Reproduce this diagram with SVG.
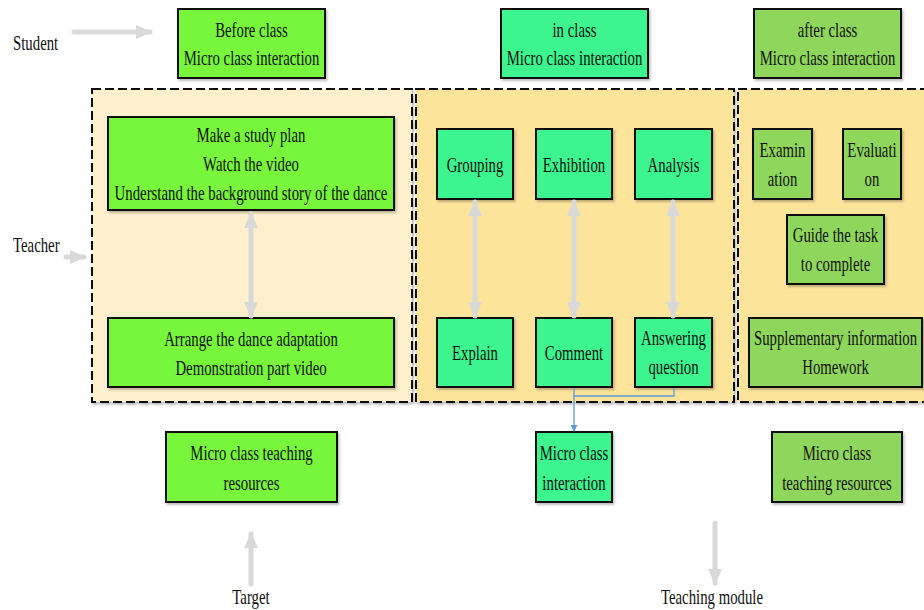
<svg xmlns="http://www.w3.org/2000/svg" width="924" height="610" viewBox="0 0 924 610">
  <defs>
    <filter id="shadow" x="-10%" y="-10%" width="130%" height="130%">
      <feDropShadow dx="1.5" dy="2" stdDeviation="1" flood-color="#000" flood-opacity="0.25"/>
    </filter>
    <marker id="grayHead" viewBox="0 0 16 14" refX="14" refY="7" markerWidth="16" markerHeight="14" markerUnits="userSpaceOnUse" orient="auto-start-reverse">
      <path d="M0,0 L16,7 L0,14 Z" fill="#d9d9d9"/>
    </marker>
    <marker id="blueHead" viewBox="0 0 8 8" refX="7" refY="4" markerWidth="7" markerHeight="7" markerUnits="userSpaceOnUse" orient="auto">
      <path d="M0,0 L8,4 L0,8 Z" fill="#5b9bd5"/>
    </marker>
  </defs>
  <style>
    text { font-family: "Liberation Serif", "Times New Roman", serif; font-size: 21px; fill: #111; text-anchor: middle; }
    .lbl { text-anchor: start; }
    .box { stroke: #111; stroke-width: 2; filter: url(#shadow); }
    .g1 { fill: #77f63b; }
    .g2 { fill: #3ef58e; }
    .g3 { fill: #8fd65c; }
    .panel { stroke: #111; stroke-width: 2; stroke-dasharray: 9 4; filter: url(#shadow); }
    .p1 { fill: #fef0cc; }
    .p2 { fill: #fde49b; }
    .garrow { stroke: #d9d9d9; stroke-width: 5; fill: none; stroke-linecap: round; }
    .blue { stroke: #5b9bd5; stroke-width: 1.3; fill: none; }
  </style>

  <!-- stage panels -->
  <g id="panel-before">
    <rect class="panel p1" x="92" y="89" width="320" height="313"/>
  </g>
  <g id="panel-in">
    <rect class="panel p2" x="416" y="89" width="318" height="313"/>
  </g>
  <g id="panel-after">
    <rect class="panel p2" x="738" y="89" width="200" height="313"/>
  </g>

  <!-- side labels -->
  <g id="student">
    <text transform="translate(13,50) scale(0.705,1)" class="lbl">Student</text>
  </g>
  <g id="teacher">
    <text transform="translate(13,252) scale(0.705,1)" class="lbl">Teacher</text>
  </g>
  <g id="target">
    <text transform="translate(251,604) scale(0.705,1)">Target</text>
  </g>
  <g id="teaching-module">
    <text transform="translate(712,604) scale(0.705,1)">Teaching module</text>
  </g>

  <!-- stage headers -->
  <g id="before-class">
    <rect class="box g1" x="178" y="9" width="147" height="69"/>
    <text transform="translate(251.5,37) scale(0.705,1)">Before class</text>
    <text transform="translate(251.5,65) scale(0.705,1)">Micro class interaction</text>
  </g>
  <g id="in-class">
    <rect class="box g2" x="501" y="9" width="147" height="69"/>
    <text transform="translate(574.5,37) scale(0.705,1)">in class</text>
    <text transform="translate(574.5,65) scale(0.705,1)">Micro class interaction</text>
  </g>
  <g id="after-class">
    <rect class="box g3" x="754" y="9" width="147" height="69"/>
    <text transform="translate(827.5,37) scale(0.705,1)">after class</text>
    <text transform="translate(827.5,65) scale(0.705,1)">Micro class interaction</text>
  </g>

  <!-- before class content -->
  <g id="study-plan">
    <rect class="box g1" x="108" y="117" width="286" height="93"/>
    <text transform="translate(251,142) scale(0.705,1)">Make a study plan</text>
    <text transform="translate(251,171) scale(0.705,1)">Watch the video</text>
    <text transform="translate(251,200) scale(0.705,1)">Understand the background story of the dance</text>
  </g>
  <g id="dance-adaptation">
    <rect class="box g1" x="108" y="318" width="286" height="69"/>
    <text transform="translate(251,346) scale(0.705,1)">Arrange the dance adaptation</text>
    <text transform="translate(251,375) scale(0.705,1)">Demonstration part video</text>
  </g>

  <!-- in class content -->
  <g id="grouping">
    <rect class="box g2" x="437" y="129" width="76" height="70"/>
    <text transform="translate(475,172) scale(0.705,1)">Grouping</text>
  </g>
  <g id="exhibition">
    <rect class="box g2" x="536" y="129" width="76" height="70"/>
    <text transform="translate(574,172) scale(0.705,1)">Exhibition</text>
  </g>
  <g id="analysis">
    <rect class="box g2" x="635" y="129" width="77" height="70"/>
    <text transform="translate(673.5,172) scale(0.705,1)">Analysis</text>
  </g>
  <g id="explain">
    <rect class="box g2" x="437" y="318" width="76" height="69"/>
    <text transform="translate(475,360) scale(0.705,1)">Explain</text>
  </g>
  <g id="comment">
    <rect class="box g2" x="536" y="318" width="76" height="69"/>
    <text transform="translate(574,360) scale(0.705,1)">Comment</text>
  </g>
  <g id="answering">
    <rect class="box g2" x="635" y="318" width="77" height="69"/>
    <text transform="translate(673.5,345) scale(0.705,1)">Answering</text>
    <text transform="translate(673.5,374) scale(0.705,1)">question</text>
  </g>

  <!-- after class content -->
  <g id="examination">
    <rect class="box g3" x="753" y="129" width="59" height="70"/>
    <text transform="translate(782.5,157) scale(0.705,1)">Examin</text>
    <text transform="translate(782.5,186) scale(0.705,1)">ation</text>
  </g>
  <g id="evaluation">
    <rect class="box g3" x="843" y="129" width="58" height="70"/>
    <text transform="translate(872,157) scale(0.705,1)">Evaluati</text>
    <text transform="translate(872,186) scale(0.705,1)">on</text>
  </g>
  <g id="guide-task">
    <rect class="box g3" x="787" y="215" width="97" height="69"/>
    <text transform="translate(835.5,242) scale(0.705,1)">Guide the task</text>
    <text transform="translate(835.5,271) scale(0.705,1)">to complete</text>
  </g>
  <g id="supplementary">
    <rect class="box g3" x="749" y="318" width="173" height="69"/>
    <text transform="translate(835.5,345) scale(0.705,1)">Supplementary information</text>
    <text transform="translate(835.5,374) scale(0.705,1)">Homework</text>
  </g>

  <!-- bottom resources -->
  <g id="resources-before">
    <rect class="box g1" x="166" y="432" width="171" height="70"/>
    <text transform="translate(251.5,460) scale(0.705,1)">Micro class teaching</text>
    <text transform="translate(251.5,490) scale(0.705,1)">resources</text>
  </g>
  <g id="interaction-in">
    <rect class="box g2" x="536" y="432" width="76" height="70"/>
    <text transform="translate(574,460) scale(0.705,1)">Micro class</text>
    <text transform="translate(574,490) scale(0.705,1)">interaction</text>
  </g>
  <g id="resources-after">
    <rect class="box g3" x="772" y="432" width="130" height="70"/>
    <text transform="translate(837,460) scale(0.705,1)">Micro class</text>
    <text transform="translate(837,490) scale(0.705,1)">teaching resources</text>
  </g>

  <!-- connectors -->
  <g id="connectors">
    <line class="garrow" x1="74" y1="32" x2="150" y2="32" stroke-width="6" marker-end="url(#grayHead)"/>
    <line class="garrow" x1="66" y1="257" x2="84" y2="257" stroke-width="7" marker-end="url(#grayHead)"/>
    <line class="garrow" x1="251" y1="214" x2="251" y2="316" marker-start="url(#grayHead)" marker-end="url(#grayHead)"/>
    <line class="garrow" x1="475" y1="202" x2="475" y2="316" marker-start="url(#grayHead)" marker-end="url(#grayHead)"/>
    <line class="garrow" x1="574" y1="202" x2="574" y2="316" marker-start="url(#grayHead)" marker-end="url(#grayHead)"/>
    <line class="garrow" x1="673" y1="202" x2="673" y2="316" marker-start="url(#grayHead)" marker-end="url(#grayHead)"/>
    <line class="garrow" x1="251" y1="584" x2="251" y2="534" marker-end="url(#grayHead)"/>
    <line class="garrow" x1="715" y1="523" x2="715" y2="583" marker-end="url(#grayHead)"/>
    <path class="blue" d="M674,388 V396 H574"/>
    <line class="blue" x1="574" y1="388" x2="574" y2="431" marker-end="url(#blueHead)"/>
  </g>
</svg>
